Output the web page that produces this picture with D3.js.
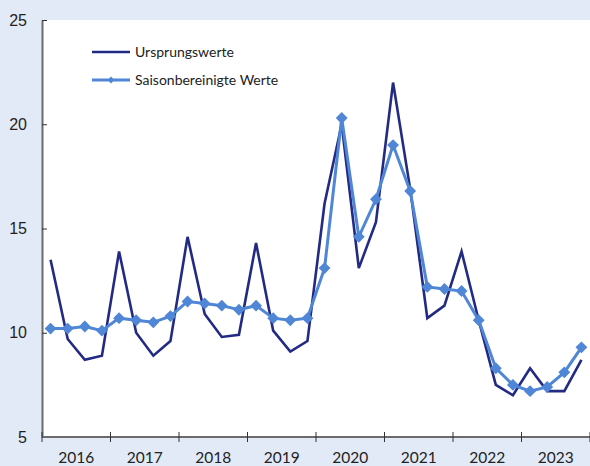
<!DOCTYPE html>
<html>
<head>
<meta charset="utf-8">
<script src="https://cdn.jsdelivr.net/npm/d3@7"></script>
<style>
  body { margin: 0; background: #e3eaf7; }
  svg { display: block; font-family: "Lato", "DejaVu Sans", sans-serif; }
</style>
</head>
<body>
<svg id="chart" width="590" height="466"></svg>
<script>
// Quarterly data, 2016 Q1 .. 2023 Q4
const years = ["2016", "2017", "2018", "2019", "2020", "2021", "2022", "2023"];
const ursprungswerte = [
  13.5, 9.7, 8.7, 8.9,
  13.9, 10.0, 8.9, 9.6,
  14.6, 10.9, 9.8, 9.9,
  14.3, 10.1, 9.1, 9.6,
  16.2, 20.0, 13.1, 15.3,
  22.0, 16.9, 10.7, 11.3,
  13.9, 10.6, 7.5, 7.0,
  8.3, 7.2, 7.2, 8.7
];
const saisonbereinigt = [
  10.2, 10.2, 10.3, 10.1,
  10.7, 10.6, 10.5, 10.8,
  11.5, 11.4, 11.3, 11.1,
  11.3, 10.7, 10.6, 10.7,
  13.1, 20.3, 14.6, 16.4,
  19.0, 16.8, 12.2, 12.1,
  12.0, 10.6, 8.3, 7.5,
  7.2, 7.4, 8.1, 9.3
];
const yTicks = [5, 10, 15, 20, 25];

const margin = { top: 20, right: 0, bottom: 29, left: 42 };
const width = 590, height = 466;
const darkColor = "#232a84";
const lightColor = "#4f86d6";
const axisColor = "#6b6b6b";

const svg = d3.select("#chart");

// white plot area
svg.append("rect")
  .attr("x", margin.left)
  .attr("y", margin.top)
  .attr("width", width - margin.left - margin.right)
  .attr("height", height - margin.top - margin.bottom)
  .attr("fill", "#ffffff");

const x = d3.scaleLinear()
  .domain([0, ursprungswerte.length])
  .range([margin.left, width - margin.right]);
const y = d3.scaleLinear()
  .domain([5, 25])
  .range([height - margin.bottom, margin.top]);

const xYear = d3.scaleBand()
  .domain(years)
  .range([margin.left, width - margin.right]);

// y axis
const yAxis = svg.append("g")
  .attr("transform", `translate(${margin.left},0)`)
  .call(d3.axisLeft(y).tickValues(yTicks).tickSize(5).tickPadding(10).tickSizeOuter(0));
yAxis.select(".domain").attr("stroke", axisColor).attr("stroke-width", 2);
yAxis.selectAll(".tick line").attr("stroke", "#333").attr("x2", 5);
yAxis.selectAll(".tick text").attr("font-size", 16).attr("fill", "#222");

// x axis: ticks at year boundaries, labels centered in years
const xAxis = svg.append("g")
  .attr("transform", `translate(0,${height - margin.bottom})`);
xAxis.append("line")
  .attr("x1", margin.left).attr("x2", width - margin.right)
  .attr("stroke", axisColor).attr("stroke-width", 2);
xAxis.selectAll("line.tick")
  .data(d3.range(0, years.length + 1))
  .join("line")
  .attr("class", "tick")
  .attr("x1", (d) => x(d * 4)).attr("x2", (d) => x(d * 4))
  .attr("y1", -5).attr("y2", 5)
  .attr("stroke", "#333");
xAxis.selectAll("text")
  .data(years)
  .join("text")
  .attr("x", (d) => xYear(d) + xYear.bandwidth() / 2)
  .attr("y", 26)
  .attr("text-anchor", "middle")
  .attr("font-size", 15.5)
  .attr("fill", "#222")
  .text((d) => d);

const line = d3.line()
  .x((d, i) => x(i + 0.5))
  .y((d) => y(d));

svg.append("path")
  .datum(ursprungswerte)
  .attr("fill", "none")
  .attr("stroke", darkColor)
  .attr("stroke-width", 2.6)
  .attr("stroke-linejoin", "miter")
  .attr("d", line);

svg.append("path")
  .datum(saisonbereinigt)
  .attr("fill", "none")
  .attr("stroke", lightColor)
  .attr("stroke-width", 3)
  .attr("d", line);

const diamond = d3.symbol().type(d3.symbolDiamond2).size(90);
svg.append("g")
  .selectAll("path")
  .data(saisonbereinigt)
  .join("path")
  .attr("transform", (d, i) => `translate(${x(i + 0.5)},${y(d)})`)
  .attr("d", diamond)
  .attr("fill", lightColor);

// legend
const legend = svg.append("g");
legend.append("line")
  .attr("x1", 92).attr("x2", 130).attr("y1", 52).attr("y2", 52)
  .attr("stroke", darkColor).attr("stroke-width", 2.6);
legend.append("text")
  .attr("x", 135).attr("y", 57)
  .attr("font-size", 14).attr("fill", "#222")
  .text("Ursprungswerte");
legend.append("line")
  .attr("x1", 92).attr("x2", 130).attr("y1", 80).attr("y2", 80)
  .attr("stroke", lightColor).attr("stroke-width", 3);
legend.append("path")
  .attr("transform", "translate(111,80)")
  .attr("d", d3.symbol().type(d3.symbolDiamond2).size(30))
  .attr("fill", lightColor);
legend.append("text")
  .attr("x", 135).attr("y", 85)
  .attr("font-size", 14).attr("fill", "#222")
  .text("Saisonbereinigte Werte");
</script>
</body>
</html>
